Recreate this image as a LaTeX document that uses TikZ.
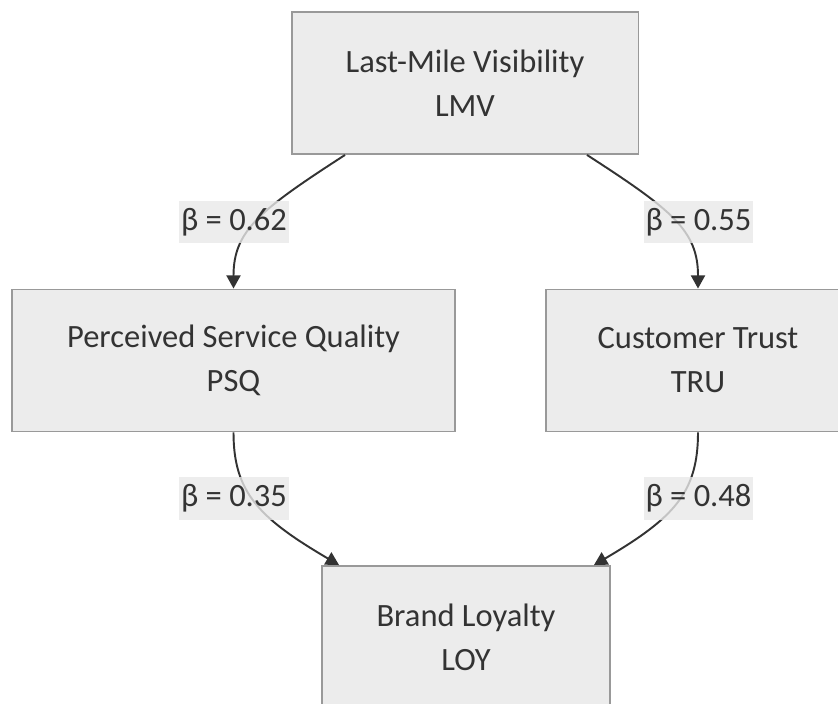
\documentclass[tikz,border=0pt]{standalone}
\usepackage{fontspec}
\setmainfont{Carlito}
\usepackage{tikz}
\usetikzlibrary{positioning,calc,arrows.meta}

\definecolor{boxfill}{HTML}{ECECEC}
\definecolor{boxline}{HTML}{999999}
\definecolor{ink}{HTML}{333333}
\definecolor{tagfill}{HTML}{E8E8E8}

\begin{document}
\begin{tikzpicture}[x=0.02cm,y=-0.02cm]
        \tikzstyle{box}=[rectangle, draw=boxline, fill=boxfill, line width=1.1pt, inner sep=0pt, minimum height=2.84cm, text=ink, align=center, font=\fontsize{18.5}{25}\selectfont]
        \tikzstyle{tag}=[rectangle, fill=tagfill, fill opacity=0.8, text opacity=1, text=ink, inner sep=1pt, minimum height=0.86cm, minimum width=2.1cm, font=\fontsize{18.5}{20}\selectfont]
        \tikzstyle{link}=[draw=ink, line width=1.1pt, -{Triangle[width=8pt,length=7.5pt]}]

        \useasboundingbox (0,0) rectangle (838,703);

        \node[box, minimum width=6.94cm] (lmv) at (465,83) {Last-Mile Visibility\\LMV};
        \node[box, minimum width=8.86cm] (psq) at (233.5,360.5) {Perceived Service Quality\\PSQ};
        \node[box, minimum width=6.08cm] (tru) at (698,360.5) {Customer Trust\\TRU};
        \node[box, minimum width=5.76cm] (loy) at (466,637) {Brand Loyalty\\LOY};

        \draw[link] ($(lmv.south)+(-120,0)$) .. controls +(-85,55) and +(0,-58) .. (psq.north);
        \draw[link] ($(lmv.south)+(122,0)$) .. controls +(85,55) and +(0,-58) .. (tru.north);
        \draw[link] (psq.south) .. controls +(0,60) and +(-80,-47) .. ($(loy.north west)+(18,0)$);
        \draw[link] (tru.south) .. controls +(0,60) and +(80,-47) .. ($(loy.north east)+(-17,0)$);

        \node[tag] (b1) at (234,222) {β = 0.62};
        \node[tag] (b2) at (698.5,222) {β = 0.55};
        \node[tag] (b3) at (234,498.5) {β = 0.35};
        \node[tag] (b4) at (698.5,498.5) {β = 0.48};
\end{tikzpicture}
\end{document}
